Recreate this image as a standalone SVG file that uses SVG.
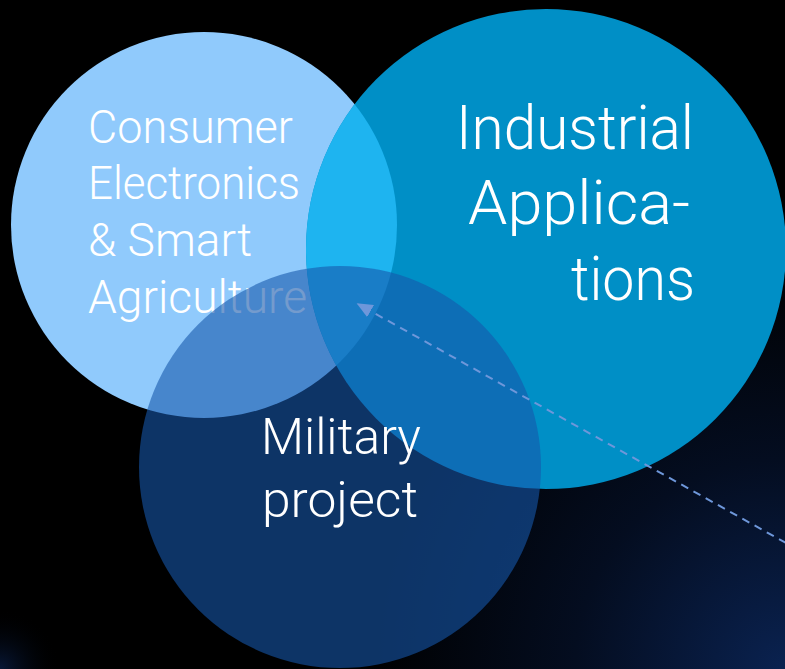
<svg xmlns="http://www.w3.org/2000/svg" width="785" height="669" viewBox="0 0 785 669">
<defs>
<radialGradient id="bg" cx="785" cy="669" r="420" gradientUnits="userSpaceOnUse">
<stop offset="0" stop-color="#0A2250"/>
<stop offset="0.5" stop-color="#040D20"/>
<stop offset="1" stop-color="#000000"/>
</radialGradient>
<radialGradient id="bg2" cx="0" cy="669" r="60" gradientUnits="userSpaceOnUse">
<stop offset="0" stop-color="#081838"/>
<stop offset="1" stop-color="#000000" stop-opacity="0"/>
</radialGradient>
<clipPath id="clipConsumer"><circle cx="204" cy="225" r="193"/></clipPath>
<marker id="arrow" viewBox="0 0 10 10" refX="9" refY="5" markerWidth="16" markerHeight="14" markerUnits="userSpaceOnUse" orient="auto-start-reverse" preserveAspectRatio="none">
<path d="M0,0 L10,5 L0,10 z" fill="#6E97DA"/>
</marker>
<style>
.lbl{font-family:Roboto,"Open Sans","Liberation Sans",sans-serif;font-weight:300;fill:#FFFFFF;}
.conn{fill:none;stroke:#6E97DA;stroke-width:2;stroke-dasharray:8 6;}
</style>
</defs>
<rect width="785" height="669" fill="url(#bg)"/>
<rect width="785" height="669" fill="url(#bg2)"/>
<g id="node-consumer">
<circle cx="204" cy="225" r="193" fill="#90CAFC"/>
</g>
<g id="node-industrial">
<circle cx="546" cy="249" r="240" fill="#008FC6"/>
<circle cx="546" cy="249" r="240" fill="#1EB4F0" clip-path="url(#clipConsumer)"/>
<text class="lbl" font-size="62">
<tspan x="456" y="149" textLength="238" lengthAdjust="spacingAndGlyphs">Industrial</tspan>
<tspan x="468" y="224" textLength="222" lengthAdjust="spacingAndGlyphs">Applica-</tspan>
<tspan x="571" y="300" textLength="124" lengthAdjust="spacingAndGlyphs">tions</tspan>
</text>
</g>
<g id="node-consumer-label">
<text class="lbl" font-size="46">
<tspan x="88" y="143" textLength="205" lengthAdjust="spacingAndGlyphs">Consumer</tspan>
<tspan x="88" y="199" textLength="212" lengthAdjust="spacingAndGlyphs">Electronics</tspan>
<tspan x="88" y="256" textLength="164" lengthAdjust="spacingAndGlyphs">&amp; Smart</tspan>
<tspan x="88" y="313" textLength="219" lengthAdjust="spacingAndGlyphs">Agriculture</tspan>
</text>
</g>
<g id="node-military">
<circle cx="340" cy="467" r="201" fill="#1657AB" fill-opacity="0.595"/>
<text class="lbl" font-size="50">
<tspan x="261" y="454" textLength="160" lengthAdjust="spacingAndGlyphs">Military</tspan>
<tspan x="262" y="517" textLength="156" lengthAdjust="spacingAndGlyphs">project</tspan>
</text>
</g>
<g id="connectors">
<line class="conn" x1="786" y1="543" x2="358" y2="304" marker-end="url(#arrow)"/>
</g>
</svg>
